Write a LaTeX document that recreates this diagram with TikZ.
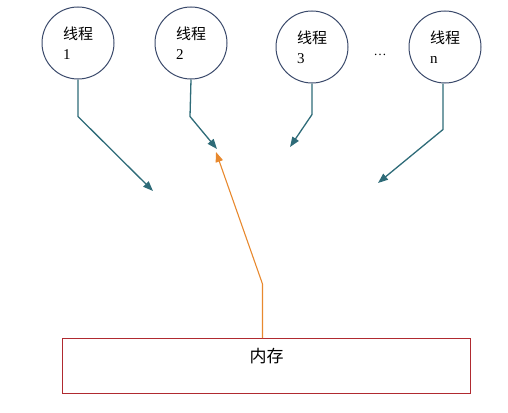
\documentclass[tikz,border=0pt]{standalone}
\usepackage{fontspec}
\setmainfont{Liberation Serif}
\newfontfamily\cjk{Noto Sans CJK SC}
\usetikzlibrary{arrows.meta}
\definecolor{threadblue}{HTML}{3B4A6B}
\definecolor{flowteal}{HTML}{2E6B78}
\definecolor{loadorange}{HTML}{E8892E}
\definecolor{memred}{HTML}{B02A30}
\tikzset{
  thread/.style={draw=threadblue, line width=1pt, circle, minimum size=72pt,
    inner sep=0pt, align=left, font=\fontsize{15}{20}\selectfont},
  tealflow/.style={draw=flowteal, line width=1.3pt,
    -{Triangle[length=10pt,width=7.5pt,fill=flowteal]}},
  loadflow/.style={draw=loadorange, line width=1.1pt,
    -{Triangle[length=10pt,width=7.5pt,fill=loadorange]}},
  membox/.style={draw=memred, line width=1pt, minimum width=408pt,
    minimum height=55pt, inner sep=0pt, text depth=22pt,
    font=\cjk\fontsize{17}{17}\selectfont}
}
\begin{document}
\begin{tikzpicture}[x=1pt,y=-1pt]
  \useasboundingbox (0,0) rectangle (508,412);

  \node [thread] (t1) at (78,43) {{\cjk 线程}\\1};
  \node [thread] (t2) at (191,43) {{\cjk 线程}\\2};
  \node [thread] (t3) at (312,47) {{\cjk 线程}\\3};
  \node [thread] (tn) at (445,47) {{\cjk 线程}\\n};
  \node [font=\fontsize{13}{13}\selectfont] (dots) at (380,55) {\dots};

  \node [membox, anchor=north west] (mem) at (62,338) {内存};

  \coordinate (hit1) at (153,191);
  \coordinate (hit2) at (217,149);
  \coordinate (hit3) at (290,147);
  \coordinate (hitn) at (378,183);
  \coordinate (load) at (216,152);

  \draw [tealflow] (t1.south) -- ++(0,37) -- (hit1);
  \draw [tealflow] (t2.south) -- ++(-1,37) -- (hit2);
  \draw [tealflow] (t3.south) -- ++(0,31) -- (hit3);
  \draw [tealflow] ([xshift=-2pt]tn.south) -- ++(0,46) -- (hitn);

  \draw [loadflow] ([xshift=-4pt]mem.north) -- ++(0,-54) -- (load);
\end{tikzpicture}
\end{document}
